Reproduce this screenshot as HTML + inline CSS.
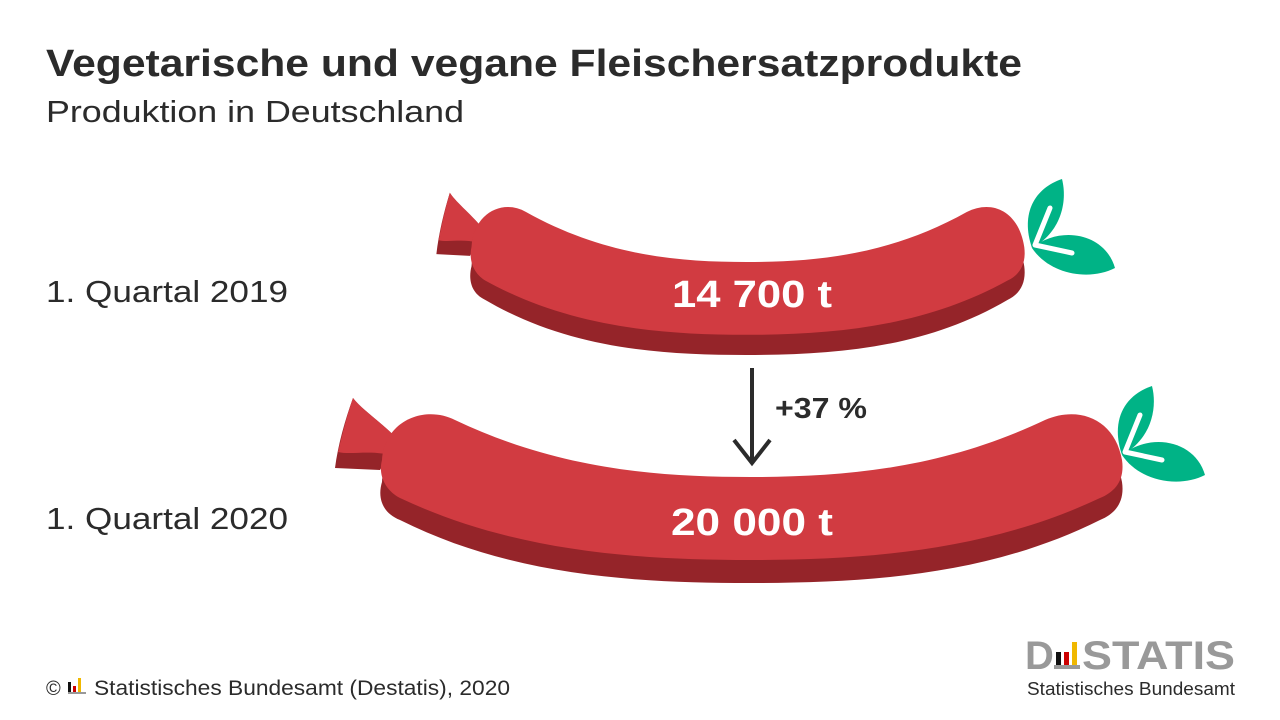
<!DOCTYPE html>
<html><head><meta charset="utf-8"><style>html,body{margin:0;padding:0;background:#fff}svg{display:block}</style></head>
<body>
<svg width="1280" height="720" viewBox="0 0 1280 720" xmlns="http://www.w3.org/2000/svg" font-family="Liberation Sans, sans-serif">
<rect width="1280" height="720" fill="#fff"/>
<text x="46" y="76" font-size="38" font-weight="bold" fill="#2b2b2b" textLength="976" lengthAdjust="spacingAndGlyphs">Vegetarische und vegane Fleischersatzprodukte</text>
<text x="46" y="122" font-size="31" fill="#2b2b2b" textLength="418" lengthAdjust="spacingAndGlyphs">Produktion in Deutschland</text>
<text x="46" y="302" font-size="31" fill="#2b2b2b" textLength="242" lengthAdjust="spacingAndGlyphs">1. Quartal 2019</text>
<text x="46" y="529" font-size="31" fill="#2b2b2b" textLength="242" lengthAdjust="spacingAndGlyphs">1. Quartal 2020</text>

<defs>
<g id="saus">
  <path d="M353,398 C362,410 385,425 398,440 L380,470 L335,468 C338,445 345,420 353,398 Z" fill="#952429"/>
  <path d="M353,398 C362,410 385,425 398,440 L390,455 C370,450 350,455 338,452 C342,435 347,415 353,398 Z" fill="#d13b41"/>
  <path d="M382,482 C385,442 425,427 455,442 C560,492 660,499 750,499 C840,499 940,492 1045,442 C1080,427 1115,442 1122,482 C1125,502 1115,514 1100,520 C990,575 870,583 750,583 C630,583 510,575 400,520 C380,512 378,495 382,482 Z" fill="#952429"/>
  <path d="M382,460 C385,420 425,405 455,420 C560,470 660,477 750,477 C840,477 940,470 1045,420 C1080,405 1115,420 1122,460 C1125,480 1115,492 1100,498 C990,550 870,560 750,560 C630,560 510,550 400,498 C385,490 378,475 382,460 Z" fill="#d13b41"/>
</g>
<g id="leaf">
  <path d="M1122,455 C1110,420 1125,395 1152,386 C1158,410 1150,440 1122,455 Z" fill="#00b386"/>
  <path d="M1122,455 C1150,432 1195,440 1205,475 C1180,488 1140,482 1122,455 Z" fill="#00b386"/>
  <path d="M1125,452 L1140,415 M1125,452 L1162,460" stroke="#fff" stroke-width="5" stroke-linecap="round" fill="none"/>
</g>
</defs>

<use href="#saus" transform="translate(470,205) scale(0.747,0.877) translate(-380,-412)"/>
<use href="#leaf" transform="translate(-90,-207)"/>
<use href="#saus"/>
<use href="#leaf"/>

<text x="752" y="307" font-size="38" font-weight="bold" fill="#fff" text-anchor="middle" textLength="160" lengthAdjust="spacingAndGlyphs">14 700 t</text>
<text x="752" y="535" font-size="38" font-weight="bold" fill="#fff" text-anchor="middle" textLength="162" lengthAdjust="spacingAndGlyphs">20 000 t</text>

<path d="M752,368 L752,463 M734,440 L752,463 L770,440" stroke="#2b2b2b" stroke-width="4" fill="none"/>
<text x="775" y="418" font-size="29" font-weight="bold" fill="#2b2b2b" textLength="92" lengthAdjust="spacingAndGlyphs">+37 %</text>

<text x="46" y="695" font-size="20" fill="#2b2b2b">©</text>
<rect x="68" y="682" width="3" height="12" fill="#111"/>
<rect x="73" y="686" width="3" height="8" fill="#c00"/>
<rect x="78" y="678" width="3" height="16" fill="#f0b800"/>
<rect x="68" y="692" width="18" height="2" fill="#999"/>
<text x="94" y="695" font-size="21" fill="#2b2b2b" textLength="416" lengthAdjust="spacingAndGlyphs">Statistisches Bundesamt (Destatis), 2020</text>

<text x="1025" y="669" font-size="40" font-weight="bold" fill="#999">D</text>
<rect x="1056" y="652" width="5" height="15" fill="#111"/>
<rect x="1064" y="652" width="5" height="15" fill="#c00"/>
<rect x="1072" y="642" width="5" height="25" fill="#f0b800"/>
<rect x="1054" y="665" width="26" height="4" fill="#999"/>
<text x="1082" y="669" font-size="40" font-weight="bold" fill="#999" textLength="153" lengthAdjust="spacingAndGlyphs">STATIS</text>
<text x="1027" y="695" font-size="18" fill="#2b2b2b" textLength="208" lengthAdjust="spacingAndGlyphs">Statistisches Bundesamt</text>
</svg>
</body></html>
